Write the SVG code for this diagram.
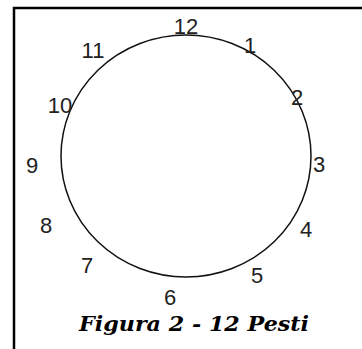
<svg xmlns="http://www.w3.org/2000/svg" width="362" height="349" viewBox="0 0 362 349">
<style>
.frame{stroke:#000;stroke-width:2.5;fill:none}
.dial{stroke:#111;stroke-width:1.5;fill:none}
.num{font-family:"Liberation Sans",Arial,sans-serif;font-size:22px;fill:#222;text-anchor:middle}
.cap{font-family:"DejaVu Serif","Liberation Serif",serif;font-size:20px;font-weight:bold;font-style:italic;fill:#000}
</style>
<rect width="362" height="349" fill="#fff"/>
<g id="frame">
<path class="frame" d="M14,349 V8 H362"/>
</g>
<g id="dial">
<ellipse class="dial" cx="186" cy="156" rx="125" ry="121"/>
</g>
<g id="labels">
<text id="n12" class="num" x="186" y="34">12</text>
<text id="n1" class="num" x="250" y="53">1</text>
<text id="n2" class="num" x="297" y="105">2</text>
<text id="n3" class="num" x="319" y="172">3</text>
<text id="n4" class="num" x="306" y="237">4</text>
<text id="n5" class="num" x="257" y="283">5</text>
<text id="n6" class="num" x="170" y="305">6</text>
<text id="n7" class="num" x="87" y="273">7</text>
<text id="n8" class="num" x="46" y="233">8</text>
<text id="n9" class="num" x="32" y="173">9</text>
<text id="n10" class="num" x="60" y="113">10</text>
<text id="n11" class="num" x="93" y="58">11</text>
</g>
<g id="caption">
<text class="cap" x="79" y="331" textLength="230" lengthAdjust="spacingAndGlyphs">Figura 2 - 12 Pesti</text>
</g>
</svg>
